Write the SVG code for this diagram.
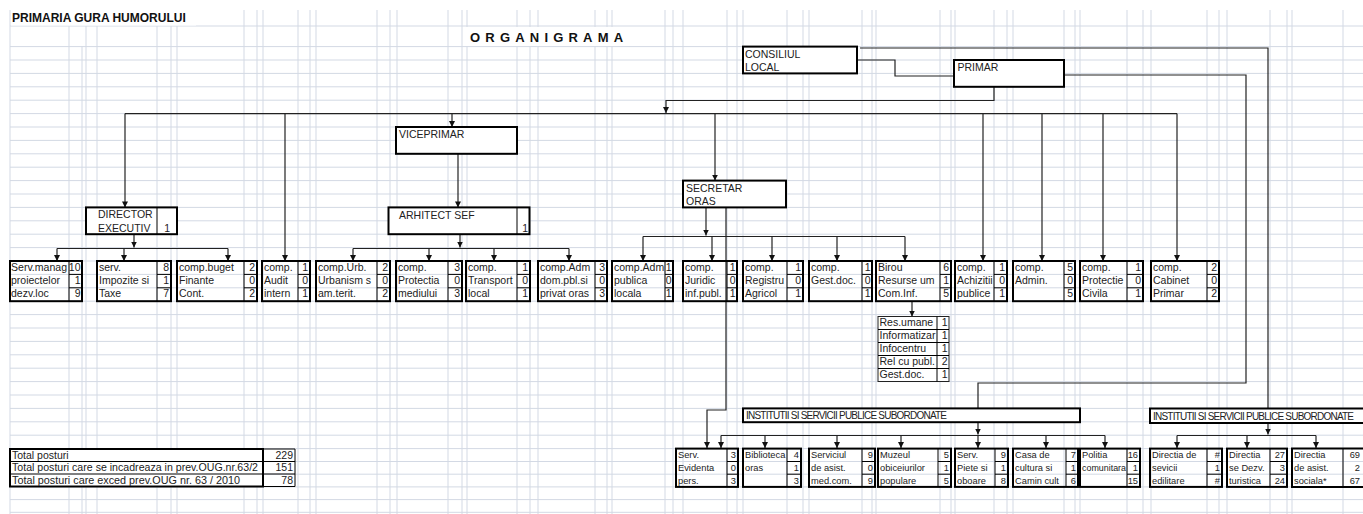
<svg xmlns="http://www.w3.org/2000/svg" width="1363" height="514" viewBox="0 0 1363 514">
<style>
.grid{stroke:#d3d9e4;stroke-width:1;fill:none}
.nb{fill:#fff;stroke:#000;stroke-width:2}
.tb{fill:none;stroke:#000;stroke-width:2}
.thin{stroke:#000;stroke-width:1;fill:none}
.t{font-family:"Liberation Sans",Arial,sans-serif;font-size:10.5px;fill:#222}
.s{font-size:9.3px}
.n{text-anchor:end}
.inst{font-size:10px;letter-spacing:-0.78px}
.conn{stroke:#222;stroke-width:1.2;fill:none}
.arr{marker-end:url(#ah)}
</style>
<defs>
<marker id="ah" viewBox="0 0 6 6" refX="6" refY="3" markerWidth="6" markerHeight="6" markerUnits="userSpaceOnUse" orient="auto"><path d="M0,0 L6,3 L0,6 z" fill="#111"/></marker>
<clipPath id="c9"><rect x="612" y="255" width="53" height="50"/></clipPath>
</defs>
<rect width="1363" height="514" fill="#fff"/>
<path class="grid" d="M10,10V514M69,26V514M82,46V514M86,26V514M97,26V514M157,26V514M171,26V514M177,26V514M244,10V514M257,10V514M263,10V514M298,10V514M310,10V514M316,10V514M377,10V514M390,10V514M397,10V514M448,10V514M462,10V514M467,10V514M517,10V514M530,10V514M538,10V514M595,10V514M607,10V514M612,10V514M665,10V514M673,10V514M683,10V514M727,10V514M737,10V514M743,10V514M787,10V514M803,10V514M809,10V514M862,10V514M872,10V514M876,10V514M940,10V514M951,10V514M955,10V514M994,10V514M1007,10V514M1013,10V514M1064,10V514M1075,10V514M1080,10V514M1127,10V514M1143,10V514M1151,10V514M1207,10V514M1219,10V514M1227,10V514M1270,10V514M1287,10V514M1292,10V514M1343,10V514
M10,26H1363M10,46.6H1363M10,60H1363M10,73.4H1363M10,86.8H1363M10,100.2H1363M10,113.6H1363M10,127H1363M10,140.4H1363M10,153.8H1363M10,167.2H1363M10,180.6H1363M10,194H1363M10,207.4H1363M10,220.8H1363M10,234.2H1363M10,247.6H1363M10,261H1363M10,274.4H1363M10,287.8H1363M10,301.2H1363M10,314.6H1363M10,328H1363M10,341.4H1363M10,354.8H1363M10,368.2H1363M10,381.6H1363M10,395H1363M10,408.4H1363M10,421.8H1363M10,435.2H1363M10,448.6H1363M10,461.5H1363M10,474.2H1363M10,486.9H1363M10,499.6H1363M10,512.3H1363"/>
<rect x="11" y="10.5" width="185" height="15" fill="#fff"/>
<rect x="466" y="27" width="162" height="19" fill="#fff"/>
<text x="12" y="22" class="t" style="font-size:12px;font-weight:bold;fill:#111">PRIMARIA GURA HUMORULUI</text>
<text x="470" y="42" class="t" style="font-size:13px;font-weight:bold;letter-spacing:5.2px;fill:#111">ORGANIGRAMA</text>

<g id="connectors">
<path class="conn" d="M857,60H895V76H954"/>
<path class="conn" d="M860,48H1268V408.4"/>
<path class="conn" d="M1063,75H1246V383H978V408.4"/>
<path class="conn arr" d="M994,87V100.5H666V113"/>
<path class="conn" d="M125,113.6H1177"/>
<path class="conn arr" d="M125,113.6V207.4"/>
<path class="conn arr" d="M285,113.6V261"/>
<path class="conn arr" d="M452,113.6V127"/>
<path class="conn arr" d="M715,113.6V180.6"/>
<path class="conn arr" d="M983,113.6V261"/>
<path class="conn arr" d="M1042,113.6V261"/>
<path class="conn arr" d="M1103,113.6V261"/>
<path class="conn arr" d="M1177,113.6V261"/>
<path class="conn arr" d="M134,234.2V247.5"/>
<path class="conn" d="M57,248.5H228"/>
<path class="conn arr" d="M57,248.5V261"/>
<path class="conn arr" d="M124,248.5V261"/>
<path class="conn arr" d="M228,248.5V261"/>
<path class="conn arr" d="M458,153.8V207.4"/>
<path class="conn arr" d="M460,234.2V247.5"/>
<path class="conn" d="M353,248.5H569"/>
<path class="conn arr" d="M353,248.5V261"/>
<path class="conn arr" d="M429,248.5V261"/>
<path class="conn arr" d="M494,248.5V261"/>
<path class="conn arr" d="M569,248.5V261"/>
<path class="conn arr" d="M706,207.4V235.5"/>
<path class="conn" d="M643,236.5H905"/>
<path class="conn arr" d="M643,236.5V261"/>
<path class="conn arr" d="M712,236.5V261"/>
<path class="conn arr" d="M772,236.5V261"/>
<path class="conn arr" d="M837,236.5V261"/>
<path class="conn arr" d="M905,236.5V261"/>
<path class="conn arr" d="M726,207.4V410H707V448"/>
<path class="conn arr" d="M912,301.2V316.5"/>
<path class="conn arr" d="M978,421.8V434.5"/>
<path class="conn" d="M721,435.5H1105"/>
<path class="conn arr" d="M721,435.5V448"/>
<path class="conn arr" d="M765,435.5V448"/>
<path class="conn arr" d="M837,435.5V448"/>
<path class="conn arr" d="M901,435.5V448"/>
<path class="conn arr" d="M978,435.5V448"/>
<path class="conn arr" d="M1046,435.5V448"/>
<path class="conn arr" d="M1105,435.5V448"/>
<path class="conn arr" d="M1268,422.5V434.5"/>
<path class="conn" d="M1177,435.5H1316"/>
<path class="conn arr" d="M1177,435.5V448"/>
<path class="conn arr" d="M1247,435.5V448"/>
<path class="conn arr" d="M1316,435.5V448"/>
</g>

<g id="consiliul-local"><rect class="nb" x="743" y="46.6" width="114" height="26.8"/><text class="t" x="745" y="57.5">CONSILIUL</text><text class="t" x="745" y="70.8">LOCAL</text></g>
<g id="primar"><rect class="nb" x="954" y="60" width="110" height="26.8"/><text class="t" x="957.5" y="70.5">PRIMAR</text></g>
<g id="viceprimar"><rect class="nb" x="396" y="127" width="121" height="26.8"/><text class="t" x="399" y="137.8">VICEPRIMAR</text></g>
<g id="director"><rect class="nb" x="86" y="207.4" width="91" height="26.8"/><line class="thin" x1="157" y1="207.4" x2="157" y2="234.2"/><text class="t" x="98" y="218.3">DIRECTOR</text><text class="t" x="98" y="231.5">EXECUTIV</text><text class="t n" x="170" y="231.5">1</text></g>
<g id="arhitect"><rect class="nb" x="388.5" y="207.4" width="141" height="26.8"/><line class="thin" x1="517" y1="207.4" x2="517" y2="234.2"/><text class="t" x="399" y="219">ARHITECT SEF</text><text class="t n" x="528" y="231.8">1</text></g>
<g id="secretar"><rect class="nb" x="683" y="180.6" width="103" height="26.8"/><text class="t" x="686" y="191.6">SECRETAR</text><text class="t" x="686" y="205">ORAS</text></g>

<g id="b01"><rect class="tb" x="10" y="261" width="72" height="40.2"/><path class="thin" d="M69,261V301.2M69,274.4H82M69,287.8H82"/><text class="t" x="11" y="270.5" textLength="56" lengthAdjust="spacingAndGlyphs">Serv.manag</text><text class="t" x="11" y="283.9">proiectelor</text><text class="t" x="11" y="297.3">dezv.loc</text><text class="t n" x="80.5" y="270.5">10</text><text class="t n" x="80.5" y="283.9">1</text><text class="t n" x="80.5" y="297.3">9</text></g>
<g id="b02"><rect class="tb" x="97" y="261" width="74" height="40.2"/><path class="thin" d="M157,261V301.2M157,274.4H171M157,287.8H171"/><text class="t" x="99" y="270.5">serv.</text><text class="t" x="99" y="283.9">Impozite si</text><text class="t" x="99" y="297.3">Taxe</text><text class="t n" x="169" y="270.5">8</text><text class="t n" x="169" y="283.9">1</text><text class="t n" x="169" y="297.3">7</text></g>
<g id="b03"><rect class="tb" x="177" y="261" width="80" height="40.2"/><path class="thin" d="M244,261V301.2M244,274.4H257M244,287.8H257"/><text class="t" x="179" y="270.5">comp.buget</text><text class="t" x="179" y="283.9">Finante</text><text class="t" x="179" y="297.3">Cont.</text><text class="t n" x="255" y="270.5">2</text><text class="t n" x="255" y="283.9">0</text><text class="t n" x="255" y="297.3">2</text></g>
<g id="b04"><rect class="tb" x="262" y="261" width="48" height="40.2"/><path class="thin" d="M298,261V301.2M298,274.4H310M298,287.8H310"/><text class="t" x="264" y="270.5">comp.</text><text class="t" x="264" y="283.9">Audit</text><text class="t" x="264" y="297.3">intern</text><text class="t n" x="308" y="270.5">1</text><text class="t n" x="308" y="283.9">0</text><text class="t n" x="308" y="297.3">1</text></g>
<g id="b05"><rect class="tb" x="316" y="261" width="74" height="40.2"/><path class="thin" d="M377,261V301.2M377,274.4H390M377,287.8H390"/><text class="t" x="318" y="270.5">comp.Urb.</text><text class="t" x="318" y="283.9">Urbanism s</text><text class="t" x="318" y="297.3">am.terit.</text><text class="t n" x="388" y="270.5">2</text><text class="t n" x="388" y="283.9">0</text><text class="t n" x="388" y="297.3">2</text></g>
<g id="b06"><rect class="tb" x="396" y="261" width="66" height="40.2"/><path class="thin" d="M448,261V301.2M448,274.4H462M448,287.8H462"/><text class="t" x="398" y="270.5">comp.</text><text class="t" x="398" y="283.9">Protectia</text><text class="t" x="398" y="297.3">mediului</text><text class="t n" x="460" y="270.5">3</text><text class="t n" x="460" y="283.9">0</text><text class="t n" x="460" y="297.3">3</text></g>
<g id="b07"><rect class="tb" x="466" y="261" width="64" height="40.2"/><path class="thin" d="M517,261V301.2M517,274.4H530M517,287.8H530"/><text class="t" x="468" y="270.5">comp.</text><text class="t" x="468" y="283.9">Transport</text><text class="t" x="468" y="297.3">local</text><text class="t n" x="528" y="270.5">1</text><text class="t n" x="528" y="283.9">0</text><text class="t n" x="528" y="297.3">1</text></g>
<g id="b08"><rect class="tb" x="538" y="261" width="69" height="40.2"/><path class="thin" d="M595,261V301.2M595,274.4H607M595,287.8H607"/><text class="t" x="540" y="270.5">comp.Adm</text><text class="t" x="540" y="283.9">dom.pbl.si</text><text class="t" x="540" y="297.3">privat oras</text><text class="t n" x="605" y="270.5">3</text><text class="t n" x="605" y="283.9">0</text><text class="t n" x="605" y="297.3">3</text></g>
<g id="b09"><rect class="tb" x="612" y="261" width="61" height="40.2"/><path class="thin" d="M665,261V301.2M665,274.4H673M665,287.8H673"/><g clip-path="url(#c9)"><text class="t" x="614" y="270.5">comp.Adm</text></g><text class="t" x="614" y="283.9">publica</text><text class="t" x="614" y="297.3">locala</text><text class="t n" x="671.5" y="270.5">1</text><text class="t n" x="671.5" y="283.9">0</text><text class="t n" x="671.5" y="297.3">1</text></g>
<g id="b10"><rect class="tb" x="683" y="261" width="54" height="40.2"/><path class="thin" d="M727,261V301.2M727,274.4H737M727,287.8H737"/><text class="t" x="685" y="270.5">comp.</text><text class="t" x="685" y="283.9">Juridic</text><text class="t" x="685" y="297.3">inf.publ.</text><text class="t n" x="735.5" y="270.5">1</text><text class="t n" x="735.5" y="283.9">0</text><text class="t n" x="735.5" y="297.3">1</text></g>
<g id="b11"><rect class="tb" x="743" y="261" width="60" height="40.2"/><path class="thin" d="M787,261V301.2M787,274.4H803M787,287.8H803"/><text class="t" x="745" y="270.5">comp.</text><text class="t" x="745" y="283.9">Registru</text><text class="t" x="745" y="297.3">Agricol</text><text class="t n" x="801" y="270.5">1</text><text class="t n" x="801" y="283.9">0</text><text class="t n" x="801" y="297.3">1</text></g>
<g id="b12"><rect class="tb" x="809" y="261" width="63" height="40.2"/><path class="thin" d="M862,261V301.2M862,274.4H872M862,287.8H872"/><text class="t" x="811" y="270.5">comp.</text><text class="t" x="811" y="283.9">Gest.doc.</text><text class="t n" x="870.5" y="270.5">1</text><text class="t n" x="870.5" y="283.9">0</text><text class="t n" x="870.5" y="297.3">1</text></g>
<g id="b13"><rect class="tb" x="876" y="261" width="75" height="40.2"/><path class="thin" d="M940,261V301.2M940,274.4H951M940,287.8H951"/><text class="t" x="878" y="270.5">Birou</text><text class="t" x="878" y="283.9">Resurse um</text><text class="t" x="878" y="297.3">Com.Inf.</text><text class="t n" x="949" y="270.5">6</text><text class="t n" x="949" y="283.9">1</text><text class="t n" x="949" y="297.3">5</text></g>
<g id="b14"><rect class="tb" x="955" y="261" width="52" height="40.2"/><path class="thin" d="M994,261V301.2M994,274.4H1007M994,287.8H1007"/><text class="t" x="957" y="270.5">comp.</text><text class="t" x="957" y="283.9">Achizitii</text><text class="t" x="957" y="297.3">publice</text><text class="t n" x="1005" y="270.5">1</text><text class="t n" x="1005" y="283.9">0</text><text class="t n" x="1005" y="297.3">1</text></g>
<g id="b15"><rect class="tb" x="1013" y="261" width="62" height="40.2"/><path class="thin" d="M1064,261V301.2M1064,274.4H1075M1064,287.8H1075"/><text class="t" x="1015" y="270.5">comp.</text><text class="t" x="1015" y="283.9">Admin.</text><text class="t n" x="1073" y="270.5">5</text><text class="t n" x="1073" y="283.9">0</text><text class="t n" x="1073" y="297.3">5</text></g>
<g id="b16"><rect class="tb" x="1080" y="261" width="63" height="40.2"/><path class="thin" d="M1127,261V301.2M1127,274.4H1143M1127,287.8H1143"/><text class="t" x="1082" y="270.5">comp.</text><text class="t" x="1082" y="283.9">Protectie</text><text class="t" x="1082" y="297.3">Civila</text><text class="t n" x="1141" y="270.5">1</text><text class="t n" x="1141" y="283.9">0</text><text class="t n" x="1141" y="297.3">1</text></g>
<g id="b17"><rect class="tb" x="1151" y="261" width="68" height="40.2"/><path class="thin" d="M1207,261V301.2M1207,274.4H1219M1207,287.8H1219"/><text class="t" x="1153" y="270.5">comp.</text><text class="t" x="1153" y="283.9">Cabinet</text><text class="t" x="1153" y="297.3">Primar</text><text class="t n" x="1217" y="270.5">2</text><text class="t n" x="1217" y="283.9">0</text><text class="t n" x="1217" y="297.3">2</text></g>

<g id="birou-sub"><rect x="878" y="316.5" width="71" height="65" fill="#fff" stroke="#222" stroke-width="1"/><path class="thin" d="M937,316.5V381.5M878,329.5H949M878,342.5H949M878,355.5H949M878,368.5H949"/><text class="t" x="879.5" y="326.2">Res.umane</text><text class="t" x="879.5" y="339.2" textLength="56" lengthAdjust="spacingAndGlyphs">Informatizar</text><text class="t" x="879.5" y="352.2">Infocentru</text><text class="t" x="879.5" y="365.2">Rel cu publ.</text><text class="t" x="879.5" y="378.2">Gest.doc.</text><text class="t n" x="947.5" y="326.2">1</text><text class="t n" x="947.5" y="339.2">1</text><text class="t n" x="947.5" y="352.2">1</text><text class="t n" x="947.5" y="365.2">2</text><text class="t n" x="947.5" y="378.2">1</text></g>

<g id="institutii-1"><rect class="nb" x="743" y="408.4" width="337" height="13.8"/><text class="t inst" x="746" y="419">INSTITUTII SI SERVICII PUBLICE SUBORDONATE</text></g>
<g id="institutii-2"><rect x="1150" y="408.4" width="213" height="14.5" fill="#fff"/><path d="M1363,408.4H1150V422.9H1363" fill="none" stroke="#000" stroke-width="2"/><text class="t inst" x="1153" y="419.5">INSTITUTII SI SERVICII PUBLICE SUBORDONATE</text></g>

<g id="s01"><rect class="tb" x="676" y="448.6" width="62" height="38.3"/><path class="thin" d="M727,448.6V486.9M727,461.5H738M727,474.2H738"/><text class="t s" x="678" y="458">Serv.</text><text class="t s" x="678" y="470.8">Evidenta</text><text class="t s" x="678" y="483.5">pers.</text><text class="t s n" x="736" y="458">3</text><text class="t s n" x="736" y="470.8">0</text><text class="t s n" x="736" y="483.5">3</text></g>
<g id="s02"><rect class="tb" x="743" y="448.6" width="58" height="38.3"/><path class="thin" d="M787,448.6V486.9M787,461.5H801M787,474.2H801"/><text class="t s" x="745" y="458">Biblioteca</text><text class="t s" x="745" y="470.8">oras</text><text class="t s n" x="799" y="458">4</text><text class="t s n" x="799" y="470.8">1</text><text class="t s n" x="799" y="483.5">3</text></g>
<g id="s03"><rect class="tb" x="809" y="448.6" width="66" height="38.3"/><path class="thin" d="M862,448.6V486.9M862,461.5H875M862,474.2H875"/><text class="t s" x="811" y="458">Serviciul</text><text class="t s" x="811" y="470.8">de asist.</text><text class="t s" x="811" y="483.5">med.com.</text><text class="t s n" x="873" y="458">9</text><text class="t s n" x="873" y="470.8">0</text><text class="t s n" x="873" y="483.5">9</text></g>
<g id="s04"><rect class="tb" x="878" y="448.6" width="73" height="38.3"/><path class="thin" d="M938,448.6V486.9M938,461.5H951M938,474.2H951"/><text class="t s" x="880" y="458">Muzeul</text><text class="t s" x="880" y="470.8">obiceiurilor</text><text class="t s" x="880" y="483.5">populare</text><text class="t s n" x="949" y="458">5</text><text class="t s n" x="949" y="470.8">1</text><text class="t s n" x="949" y="483.5">5</text></g>
<g id="s05"><rect class="tb" x="955" y="448.6" width="53" height="38.3"/><path class="thin" d="M995,448.6V486.9M995,461.5H1008M995,474.2H1008"/><text class="t s" x="957" y="458">Serv.</text><text class="t s" x="957" y="470.8">Piete si</text><text class="t s" x="957" y="483.5">oboare</text><text class="t s n" x="1006" y="458">9</text><text class="t s n" x="1006" y="470.8">1</text><text class="t s n" x="1006" y="483.5">8</text></g>
<g id="s06"><rect class="tb" x="1013" y="448.6" width="65" height="38.3"/><path class="thin" d="M1066,448.6V486.9M1066,461.5H1078M1066,474.2H1078"/><text class="t s" x="1015" y="458">Casa de</text><text class="t s" x="1015" y="470.8">cultura si</text><text class="t s" x="1015" y="483.5">Camin cult</text><text class="t s n" x="1076" y="458">7</text><text class="t s n" x="1076" y="470.8">1</text><text class="t s n" x="1076" y="483.5">6</text></g>
<g id="s07"><rect class="tb" x="1080" y="448.6" width="60" height="38.3"/><path class="thin" d="M1127,448.6V486.9M1127,461.5H1140M1127,474.2H1140"/><text class="t s" x="1082" y="458">Politia</text><text class="t s" x="1082" y="470.8" textLength="44" lengthAdjust="spacingAndGlyphs">comunitara</text><text class="t s n" x="1138" y="458">16</text><text class="t s n" x="1138" y="470.8">1</text><text class="t s n" x="1138" y="483.5">15</text></g>
<g id="s08"><rect class="tb" x="1150" y="448.6" width="72" height="38.3"/><path class="thin" d="M1207,448.6V486.9M1207,461.5H1222M1207,474.2H1222"/><text class="t s" x="1152" y="458">Directia de</text><text class="t s" x="1152" y="470.8">sevicii</text><text class="t s" x="1152" y="483.5">edilitare</text><text class="t s n" x="1220" y="458">#</text><text class="t s n" x="1220" y="470.8">1</text><text class="t s n" x="1220" y="483.5">#</text></g>
<g id="s09"><rect class="tb" x="1227" y="448.6" width="60" height="38.3"/><path class="thin" d="M1270,448.6V486.9M1270,461.5H1287M1270,474.2H1287"/><text class="t s" x="1229" y="458">Directia</text><text class="t s" x="1229" y="470.8">se Dezv.</text><text class="t s" x="1229" y="483.5">turistica</text><text class="t s n" x="1285" y="458">27</text><text class="t s n" x="1285" y="470.8">3</text><text class="t s n" x="1285" y="483.5">24</text></g>
<g id="s10"><path d="M1363,448.6H1292V486.9H1363" fill="none" stroke="#000" stroke-width="2"/><path class="thin" d="M1343,448.6V486.9"/><text class="t s" x="1294" y="458">Directia</text><text class="t s" x="1294" y="470.8">de asist.</text><text class="t s" x="1294" y="483.5">sociala*</text><text class="t s n" x="1360" y="458">69</text><text class="t s n" x="1360" y="470.8">2</text><text class="t s n" x="1360" y="483.5">67</text></g>

<g id="totals"><rect x="10" y="449" width="253" height="37.5" fill="#fff" stroke="#000" stroke-width="2"/><path class="thin" d="M263,449H295V486.5H263M263,461.5H295M263,474H295M10,461.5H263M10,474H263"/><text class="t" x="12" y="458.5">Total posturi</text><text class="t" x="12" y="471" textLength="246" lengthAdjust="spacingAndGlyphs">Total posturi care se incadreaza in prev.OUG.nr.63/2</text><text class="t" x="12" y="483.5" textLength="228" lengthAdjust="spacingAndGlyphs">Total posturi care exced prev.OUG nr. 63 / 2010</text><text class="t n" x="293" y="458.5">229</text><text class="t n" x="293" y="471">151</text><text class="t n" x="293" y="483.5">78</text></g>
</svg>
